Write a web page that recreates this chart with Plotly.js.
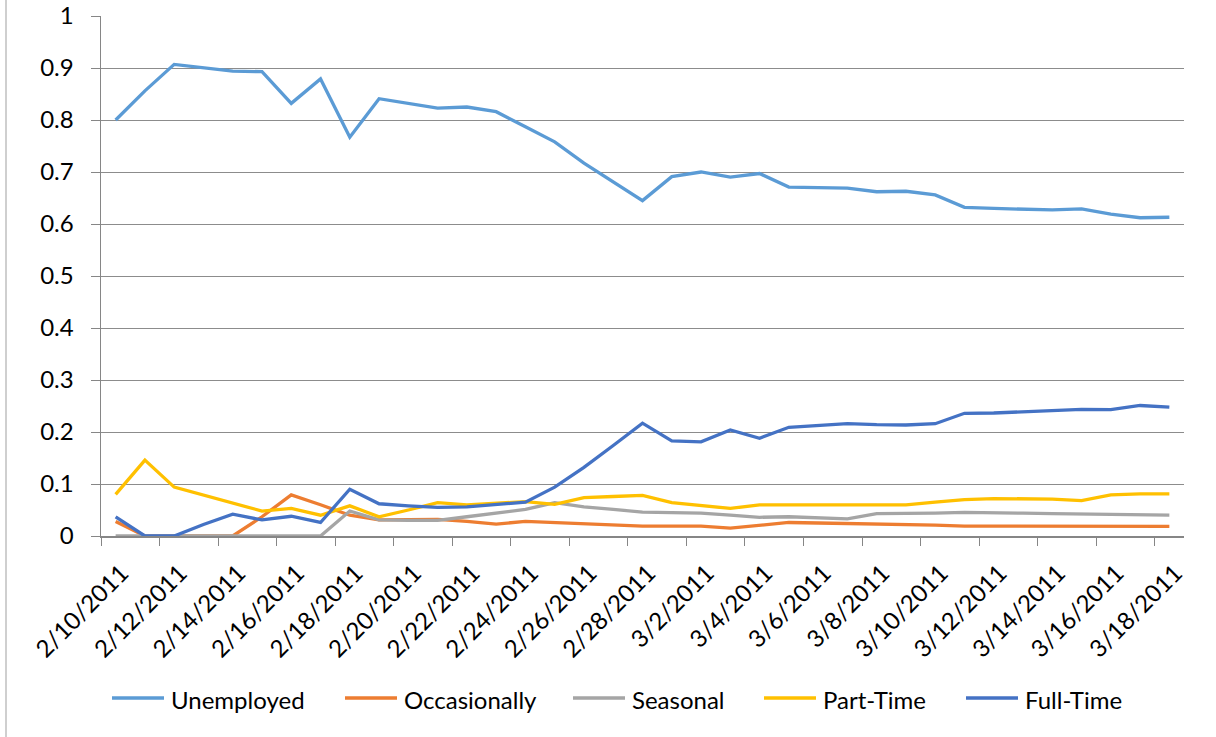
<!DOCTYPE html>
<html>
<head>
<meta charset="utf-8">
<script src="https://cdn.plot.ly/plotly-3.0.1.min.js"></script>
<style>
  html, body { margin: 0; padding: 0; background: #ffffff; }
  #chart { width: 1216px; height: 737px; }
</style>
</head>
<body>
<div id="chart"></div>
<script>
const dates = [
  "2/10/2011","2/11/2011","2/12/2011","2/13/2011","2/14/2011","2/15/2011","2/16/2011",
  "2/17/2011","2/18/2011","2/19/2011","2/20/2011","2/21/2011","2/22/2011","2/23/2011",
  "2/24/2011","2/25/2011","2/26/2011","2/27/2011","2/28/2011","3/1/2011","3/2/2011",
  "3/3/2011","3/4/2011","3/5/2011","3/6/2011","3/7/2011","3/8/2011","3/9/2011",
  "3/10/2011","3/11/2011","3/12/2011","3/13/2011","3/14/2011","3/15/2011","3/16/2011",
  "3/17/2011","3/18/2011"
];

const unemployed = [
  0.800, 0.856, 0.907, 0.900, 0.894, 0.893, 0.832, 0.879, 0.767, 0.841,
  0.832, 0.823, 0.825, 0.816, 0.787, 0.758, 0.717, 0.681, 0.645, 0.691,
  0.700, 0.690, 0.697, 0.671, 0.670, 0.669, 0.662, 0.663, 0.656, 0.632,
  0.630, 0.628, 0.627, 0.629, 0.619, 0.612, 0.613
];

const occasionally = [
  0.028, 0.000, 0.000, 0.000, 0.000, 0.037, 0.079, 0.060, 0.040, 0.031,
  0.031, 0.032, 0.028, 0.023, 0.028, 0.026, 0.023, 0.021, 0.019, 0.019,
  0.019, 0.015, 0.020, 0.026, 0.025, 0.024, 0.023, 0.023, 0.021, 0.019,
  0.019, 0.019, 0.019, 0.019, 0.0195, 0.0185, 0.0185
];

const seasonal = [
  0.000, 0.000, 0.000, 0.000, 0.000, 0.000, 0.000, 0.000, 0.048, 0.031,
  0.030, 0.030, 0.037, 0.044, 0.051, 0.064, 0.056, 0.051, 0.046, 0.045,
  0.044, 0.040, 0.036, 0.037, 0.035, 0.033, 0.043, 0.043, 0.044, 0.0455,
  0.0455, 0.044, 0.043, 0.042, 0.042, 0.040, 0.040
];

const partTime = [
  0.080, 0.146, 0.094, 0.079, 0.063, 0.048, 0.053, 0.040, 0.058, 0.037,
  0.050, 0.064, 0.060, 0.063, 0.066, 0.061, 0.074, 0.076, 0.078, 0.064,
  0.059, 0.053, 0.060, 0.060, 0.060, 0.060, 0.060, 0.060, 0.065, 0.070,
  0.072, 0.071, 0.071, 0.068, 0.079, 0.081, 0.081
];

const fullTime = [
  0.037, 0.000, 0.000, 0.022, 0.042, 0.031, 0.038, 0.026, 0.090, 0.062,
  0.058, 0.055, 0.056, 0.060, 0.065, 0.094, 0.132, 0.174, 0.217, 0.183,
  0.181, 0.204, 0.188, 0.209, 0.212, 0.216, 0.214, 0.2135, 0.216, 0.236,
  0.2365, 0.239, 0.242, 0.2435, 0.243, 0.251, 0.248
];

const seriesNames = ["Unemployed", "Occasionally", "Seasonal", "Part-Time", "Full-Time"];
const seriesColors = ["#5B9BD5", "#ED7D31", "#A5A5A5", "#FFC000", "#4472C4"];
const seriesValues = [unemployed, occasionally, seasonal, partTime, fullTime];

const yTickVals = [0, 0.1, 0.2, 0.3, 0.4, 0.5, 0.6, 0.7, 0.8, 0.9, 1];
const yTickText = ["0", "0.1", "0.2", "0.3", "0.4", "0.5", "0.6", "0.7", "0.8", "0.9", "1"];

const FONT = "Lato, 'Open Sans', sans-serif";
const FS = 24;

const traces = seriesNames.map((name, k) => ({
  type: "scatter",
  mode: "lines",
  name: name,
  x: dates,
  y: seriesValues[k],
  line: { color: seriesColors[k], width: 3.3 },
  showlegend: false,
  hoverinfo: "x+y+name"
}));

// Custom legend (Excel style: long line sample + label), positions in pixels
const W = 1216, H = 737;
const M = { l: 101, r: 32, t: 16, b: 201 };
const PW = W - M.l - M.r, PH = H - M.t - M.b;
const px2x = p => (p - M.l) / PW;
const py2y = p => (H - M.b - p) / PH;
const legendStarts = [112, 345, 573, 764, 966];
const legendY = 698;
const shapes = [];
const annotations = [];
seriesNames.forEach((name, k) => {
  const s = legendStarts[k];
  shapes.push({
    type: "line", xref: "paper", yref: "paper",
    x0: px2x(s), x1: px2x(s + 52), y0: py2y(legendY), y1: py2y(legendY),
    line: { color: seriesColors[k], width: 3.5 }
  });
  annotations.push({
    xref: "paper", yref: "paper",
    x: px2x(s + 57), y: py2y(legendY + 1),
    xanchor: "left", yanchor: "middle",
    text: name, showarrow: false,
    font: { family: FONT, size: FS, color: "#000000" }
  });
});
// Chart frame edge on the left
shapes.push({
  type: "line", xref: "paper", yref: "paper",
  x0: px2x(6), x1: px2x(6), y0: py2y(H), y1: py2y(0),
  line: { color: "#bfbfbf", width: 1.5 }
});

const layout = {
  width: W,
  height: H,
  margin: { l: M.l, r: M.r, t: M.t, b: M.b, pad: 0 },
  paper_bgcolor: "#ffffff",
  plot_bgcolor: "#ffffff",
  font: { family: FONT, size: FS, color: "#000000" },
  showlegend: false,
  xaxis: {
    type: "category",
    categoryorder: "array",
    categoryarray: dates,
    range: [-0.5, 36.5],
    tickmode: "linear",
    tick0: 0,
    dtick: 2,
    tickson: "boundaries",
    ticks: "outside",
    ticklen: 8,
    tickcolor: "#868686",
    tickwidth: 1,
    tickangle: -45,
    ticklabelstandoff: 12,
    ticklabelshift: 6,
    showgrid: false,
    showline: true,
    linecolor: "#868686",
    linewidth: 1.5,
    zeroline: false,
    tickfont: { family: FONT, size: FS, color: "#000000" },
    automargin: false
  },
  yaxis: {
    range: [0, 1],
    tickmode: "array",
    tickvals: yTickVals,
    ticktext: yTickText,
    ticks: "outside",
    ticklen: 9,
    tickcolor: "#868686",
    tickwidth: 1,
    showgrid: true,
    gridcolor: "#8c8c8c",
    gridwidth: 1,
    showline: true,
    linecolor: "#868686",
    linewidth: 1.5,
    zeroline: false,
    ticklabelstandoff: 12,
    tickfont: { family: FONT, size: FS, color: "#000000" },
    automargin: false
  },
  shapes: shapes,
  annotations: annotations
};

Plotly.newPlot("chart", traces, layout, { displayModeBar: false, responsive: false, staticPlot: true });
</script>
</body>
</html>
